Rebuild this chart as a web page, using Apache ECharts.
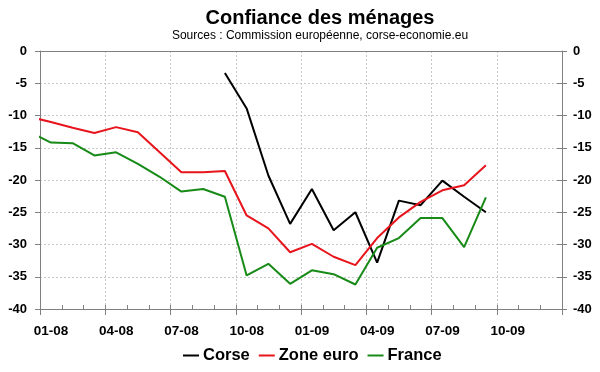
<!DOCTYPE html>
<html>
<head>
<meta charset="utf-8">
<script src="https://cdn.jsdelivr.net/npm/echarts@6/dist/echarts.min.js"></script>
<style>
html,body{margin:0;padding:0;background:#fff;}
#c{width:600px;height:372px;}
</style>
</head>
<body>
<div id="c"></div>
<script>
// Months of observation (YYYY-MM)
var months = ['2007-12','2008-01','2008-02','2008-03','2008-04','2008-05','2008-06','2008-07','2008-08','2008-09','2008-10','2008-11','2008-12',
              '2009-01','2009-02','2009-03','2009-04','2009-05','2009-06','2009-07','2009-08','2009-09'];
var corse    = [null,null,null,null,null,null,null,null,null,-3.4,-8.9,-19.3,-26.8,-21.4,-27.8,-25.0,-32.8,-23.2,-23.9,-20.1,-22.6,-25.0];
var zoneEuro = [-10.2,-11.0,-11.9,-12.7,-11.8,-12.6,-15.7,-18.8,-18.8,-18.6,-25.5,-27.5,-31.2,-29.9,-31.9,-33.2,-29.0,-25.8,-23.4,-21.6,-20.8,-17.7];
var france   = [-12.5,-14.2,-14.3,-16.2,-15.7,-17.5,-19.5,-21.8,-21.4,-22.6,-34.8,-33.0,-36.1,-34.0,-34.6,-36.2,-30.5,-29.0,-25.9,-25.9,-30.4,-22.7];
var xTickLabels = ['01-08','04-08','07-08','10-08','01-09','04-09','07-09','10-09'];

function monthPos(m){ // mid-month position in months since Jan 2008
  var p = m.split('-');
  return (parseInt(p[0],10)-2008)*12 + (parseInt(p[1],10)-1) + 0.5;
}
function pairs(vals){
  return months.map(function(m,i){ return [monthPos(m), vals[i]]; });
}

var FONT = '"Liberation Sans", Arial, sans-serif';
var chart = echarts.init(document.getElementById('c'), null, {renderer:'canvas'});
var gridLine = {show:true, lineStyle:{color:'#c8c8c8', type:[2,2], width:1}};
var axisCol = '#808080';
var G = {left:40, right:38, top:51, bottom:63};

chart.setOption({
  animation:false,
  backgroundColor:'#fff',
  title:{
    text:'Confiance des ménages',
    subtext:'Sources : Commission européenne, corse-economie.eu',
    left:315, textAlign:'center', top:3, itemGap:2,
    textStyle:{fontFamily:FONT, fontWeight:'bold', fontSize:20, color:'#000'},
    subtextStyle:{fontFamily:FONT, fontSize:12, color:'#000'}
  },
  legend:{
    bottom:3, left:178, itemWidth:16, itemHeight:2, itemGap:9, icon:'rect',
    textStyle:{fontFamily:FONT, fontWeight:'bold', fontSize:16.5, color:'#000', padding:[0,0,0,-1]},
    data:['Corse','Zone euro','France']
  },
  grid:[
    {left:G.left, right:G.right, top:G.top, bottom:G.bottom},
    {left:G.left, right:G.right, top:G.top, bottom:G.bottom}
  ],
  xAxis:[
    {gridIndex:0, type:'value', min:0, max:24, interval:3, position:'bottom',
     axisLine:{show:true, onZero:false, lineStyle:{color:axisCol, width:1}},
     axisTick:{show:true, length:6, lineStyle:{color:axisCol}},
     axisLabel:{margin:15, padding:[0,0,0,22], fontFamily:FONT, fontWeight:'bold', fontSize:13.5, color:'#000',
       formatter:function(v){ var i=Math.round(v/3); return (v<24 && xTickLabels[i]) ? xTickLabels[i] : ''; }},
     splitLine:gridLine},
    {gridIndex:0, type:'value', min:0, max:24, interval:3, position:'top',
     axisLine:{show:true, onZero:false, lineStyle:{color:axisCol, width:1}},
     axisTick:{show:false}, axisLabel:{show:false}, splitLine:{show:false}},
    {gridIndex:1, type:'value', min:0, max:24, interval:1, position:'bottom',
     axisLine:{show:false, onZero:false},
     axisTick:{show:true, inside:true, length:4, lineStyle:{color:axisCol}},
     axisLabel:{show:false}, splitLine:{show:false}}
  ],
  yAxis:[
    {gridIndex:0, type:'value', min:-40, max:0, interval:5, position:'left',
     axisLine:{show:true, onZero:false, lineStyle:{color:axisCol}},
     axisTick:{show:true, length:5, lineStyle:{color:axisCol}},
     axisLabel:{margin:13, fontFamily:FONT, fontWeight:'bold', fontSize:13, color:'#000'},
     splitLine:gridLine},
    {gridIndex:0, type:'value', min:-40, max:0, interval:5, position:'right',
     axisLine:{show:true, onZero:false, lineStyle:{color:axisCol}},
     axisTick:{show:true, length:5, lineStyle:{color:axisCol}},
     axisLabel:{margin:11, fontFamily:FONT, fontWeight:'bold', fontSize:13, color:'#000'},
     splitLine:{show:false}},
    {gridIndex:1, type:'value', min:-40, max:0, interval:5, position:'right',
     axisLine:{show:false, onZero:false},
     axisTick:{show:true, inside:true, length:5, lineStyle:{color:axisCol}},
     axisLabel:{show:false}, splitLine:{show:false}}
  ],
  series:[
    {name:'Corse', type:'line', xAxisIndex:0, yAxisIndex:0, data:pairs(corse), showSymbol:false, symbol:'none', clip:true,
     lineStyle:{color:'#000000', width:2}, itemStyle:{color:'#000000'}},
    {name:'Zone euro', type:'line', xAxisIndex:0, yAxisIndex:0, data:pairs(zoneEuro), showSymbol:false, symbol:'none', clip:true,
     lineStyle:{color:'#e8141c', width:2}, itemStyle:{color:'#e8141c'}},
    {name:'France', type:'line', xAxisIndex:0, yAxisIndex:0, data:pairs(france), showSymbol:false, symbol:'none', clip:true,
     lineStyle:{color:'#178a17', width:2}, itemStyle:{color:'#178a17'}}
  ]
});
</script>
</body>
</html>
